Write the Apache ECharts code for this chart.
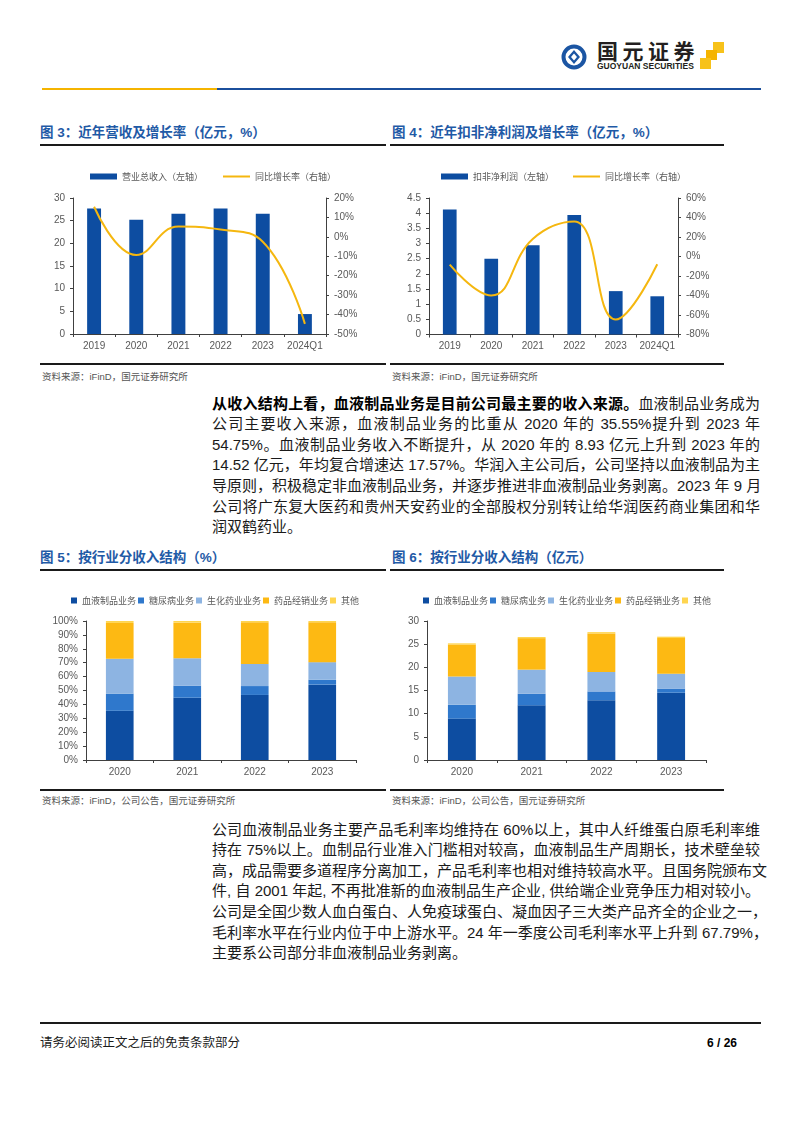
<!DOCTYPE html>
<html>
<head>
<meta charset="utf-8">
<script src="https://cdn.jsdelivr.net/npm/echarts/dist/echarts.min.js"></script>
<style>
  html, body { margin: 0; padding: 0; background: #fff; }
  body { width: 802px; height: 1133px; position: relative; overflow: hidden;
         font-family: "Liberation Sans", "Noto Sans CJK SC", sans-serif; color: #000; }
  .abs { position: absolute; }
  .title { position: absolute; font-size: 13.5px; font-weight: bold; color: #1F5AA6; white-space: nowrap; line-height: 16px; }
  .rule { position: absolute; height: 2px; background: #1a1a1a; }
  .src { position: absolute; font-size: 9.5px; color: #555; white-space: nowrap; line-height: 12px; }
  .para { position: absolute; left: 212px; width: 548px; font-size: 15px; line-height: 20.6px; color: #1a1a1a; }
  .para b { font-weight: bold; color: #000; }
  .para div { text-align: justify; text-align-last: justify; white-space: nowrap; }
  .para div.last { text-align-last: left; }
  .chart { position: absolute; }
</style>
</head>
<body>
<!-- header -->
<div class="abs" style="left:42px;top:87.5px;width:175px;height:2px;background:#F5B400"></div>
<div class="abs" style="left:217px;top:88px;width:544px;height:1.5px;background:#1B4F9C"></div>
<svg class="abs" style="left:561px;top:44px" width="26" height="26" viewBox="0 0 26 26">
  <circle cx="13" cy="13" r="10.5" fill="none" stroke="#1B55A3" stroke-width="4"/>
  <path d="M13 6 L19 13 L13 20 L7 13 Z" fill="#1B55A3"/>
  <path d="M13 9.5 L16 13 L13 16.5 L10 13 Z" fill="#fff"/>
</svg>
<div class="abs" style="left:597px;top:37px;font-size:21px;font-weight:bold;letter-spacing:4.5px;color:#231F20;line-height:26px;font-family:'Noto Sans CJK SC'">国元证券</div>
<div class="abs" style="left:597px;top:61px;font-size:8.5px;font-weight:bold;color:#231F20;line-height:10px;white-space:nowrap">GUOYUAN SECURITIES</div>
<div class="abs" style="left:713px;top:42px;width:11px;height:11px;background:#F7C21A"></div>
<div class="abs" style="left:706px;top:50px;width:11px;height:10px;background:#F5B400"></div>
<div class="abs" style="left:700px;top:58px;width:11px;height:11px;background:#F7C21A"></div>

<!-- chart 3 / 4 titles -->
<div class="title" style="left:40px;top:125px">图 3：近年营收及增长率（亿元，%）</div>
<div class="rule" style="left:40px;top:143.5px;width:346px"></div>
<div class="title" style="left:392px;top:125px">图 4：近年扣非净利润及增长率（亿元，%）</div>
<div class="rule" style="left:390px;top:143.5px;width:334px"></div>

<div id="c3" class="chart" style="left:40px;top:150px;width:347px;height:210px"></div>
<div id="c4" class="chart" style="left:390px;top:150px;width:334px;height:210px"></div>

<div class="rule" style="left:40px;top:362.5px;width:346px"></div>
<div class="rule" style="left:390px;top:362.5px;width:334px"></div>
<div class="src" style="left:42px;top:371px">资料来源：iFinD，国元证券研究所</div>
<div class="src" style="left:392px;top:371px">资料来源：iFinD，国元证券研究所</div>

<!-- paragraph 1 -->
<div class="para" style="top:393.7px">
  <div><b>从收入结构上看，血液制品业务是目前公司最主要的收入来源。</b>血液制品业务成为</div>
  <div>公司主要收入来源，血液制品业务的比重从 2020 年的 35.55%提升到 2023 年</div>
  <div>54.75%。血液制品业务收入不断提升，从 2020 年的 8.93 亿元上升到 2023 年的</div>
  <div>14.52 亿元，年均复合增速达 17.57%。华润入主公司后，公司坚持以血液制品为主</div>
  <div>导原则，积极稳定非血液制品业务，并逐步推进非血液制品业务剥离。2023 年 9 月</div>
  <div>公司将广东复大医药和贵州天安药业的全部股权分别转让给华润医药商业集团和华</div>
  <div class="last">润双鹤药业。</div>
</div>

<!-- chart 5 / 6 titles -->
<div class="title" style="left:40px;top:550px">图 5：按行业分收入结构（%）</div>
<div class="rule" style="left:40px;top:568.5px;width:346px"></div>
<div class="title" style="left:392px;top:550px">图 6：按行业分收入结构（亿元）</div>
<div class="rule" style="left:390px;top:568.5px;width:334px"></div>

<div id="c5" class="chart" style="left:40px;top:575px;width:347px;height:210px"></div>
<div id="c6" class="chart" style="left:390px;top:575px;width:334px;height:210px"></div>

<div class="rule" style="left:40px;top:788.5px;width:346px"></div>
<div class="rule" style="left:390px;top:788.5px;width:334px"></div>
<div class="src" style="left:42px;top:795px">资料来源：iFinD，公司公告，国元证券研究所</div>
<div class="src" style="left:392px;top:795px">资料来源：iFinD，公司公告，国元证券研究所</div>

<!-- paragraph 2 -->
<div class="para" style="top:819.7px">
  <div>公司血液制品业务主要产品毛利率均维持在 60%以上，其中人纤维蛋白原毛利率维</div>
  <div>持在 75%以上。血制品行业准入门槛相对较高，血液制品生产周期长，技术壁垒较</div>
  <div>高，成品需要多道程序分离加工，产品毛利率也相对维持较高水平。且国务院颁布文</div>
  <div>件, 自 2001 年起, 不再批准新的血液制品生产企业, 供给端企业竞争压力相对较小。</div>
  <div>公司是全国少数人血白蛋白、人免疫球蛋白、凝血因子三大类产品齐全的企业之一，</div>
  <div>毛利率水平在行业内位于中上游水平。24 年一季度公司毛利率水平上升到 67.79%，</div>
  <div class="last">主要系公司部分非血液制品业务剥离。</div>
</div>

<!-- footer -->
<div class="rule" style="left:40px;top:1022px;width:721px"></div>
<div class="abs" style="left:40px;top:1035px;font-size:12.5px;line-height:16px;white-space:nowrap;color:#1a1a1a">请务必阅读正文之后的免责条款部分</div>
<div class="abs" style="left:697px;top:1035px;width:40px;text-align:right;font-size:12px;font-weight:bold;line-height:16px;white-space:nowrap">6 / 26</div>

<script>
// ---------- data ----------
const years = ['2019', '2020', '2021', '2022', '2023', '2024Q1'];
const revenue = [27.7, 25.2, 26.5, 27.7, 26.5, 4.4];
const revenueGrowth = [15.5, -9.3, 5.3, 3.8, -2.5, -44.8];
const profit = [4.12, 2.50, 2.94, 3.94, 1.43, 1.26];
const profitGrowth = [-8.3, -39.9, 18.0, 36.0, -64.6, -8.0];

const segYears = ['2020', '2021', '2022', '2023'];
const segNames = ['血液制品业务', '糖尿病业务', '生化药业业务', '药品经销业务', '其他'];
const sharePlasma = [35.4, 44.8, 46.8, 54.2];
const shareDiabetes = [12.3, 8.7, 6.4, 3.6];
const shareBiochem = [25.1, 19.7, 15.9, 12.6];
const shareDistrib = [25.8, 25.6, 30.0, 28.7];
const shareOther = [1.4, 1.2, 0.9, 0.9];

const revPlasma = [8.93, 11.8, 12.9, 14.52];
const revDiabetes = [3.0, 2.5, 1.9, 0.9];
const revBiochem = [6.1, 5.2, 4.2, 3.2];
const revDistrib = [6.9, 6.8, 8.3, 7.7];
const revOther = [0.25, 0.25, 0.3, 0.3];

// ---------- styles ----------
const BLUE = '#0D4DA1';
const GOLD = '#F5B70F';
const SEG_COLORS = ['#0D4DA1', '#2F78CC', '#8DB4E2', '#FDB913', '#FFD54F'];
const AXIS_COLOR = '#404040';
const LABEL = { color: '#595959', fontSize: 10, fontFamily: 'Liberation Sans, Arial, sans-serif' };
const LEGEND_TEXT = { color: '#595959', fontSize: 9, fontFamily: 'Noto Sans CJK SC, sans-serif' };

function valAxis(min, max, interval, pos, fmt) {
  return {
    type: 'value', min: min, max: max, interval: interval, position: pos,
    axisLine: { show: true, lineStyle: { color: AXIS_COLOR, width: 1 } },
    axisTick: { show: true, length: 3, lineStyle: { color: AXIS_COLOR } },
    splitLine: { show: false },
    axisLabel: Object.assign({ margin: 8, formatter: fmt }, LABEL)
  };
}
function catAxis(data) {
  return {
    type: 'category', data: data,
    axisLine: { show: true, lineStyle: { color: AXIS_COLOR, width: 1 } },
    axisTick: { show: true, length: 3, alignWithLabel: false, interval: 0, lineStyle: { color: AXIS_COLOR } },
    axisLabel: Object.assign({ margin: 7, interval: 0 }, LABEL)
  };
}

function comboChart(id, grid, barLegendLeft, lineLegendLeft, barName, lineName, barData, lineData, lAxis, rAxis) {
  const ch = echarts.init(document.getElementById(id), null, { renderer: 'canvas' });
  ch.setOption({
    animation: false,
    legend: [
      { left: barLegendLeft, top: 17, itemWidth: 27, itemHeight: 6, icon: 'rect',
        textStyle: LEGEND_TEXT, data: [barName] },
      { left: lineLegendLeft, top: 17, itemWidth: 27, itemHeight: 2, icon: 'rect',
        textStyle: LEGEND_TEXT, data: [lineName] }
    ],
    grid: grid,
    xAxis: catAxis(years),
    yAxis: [lAxis, rAxis],
    series: [
      { name: barName, type: 'bar', data: barData, barWidth: '33%', itemStyle: { color: BLUE }, yAxisIndex: 0 },
      { name: lineName, type: 'line', data: lineData, yAxisIndex: 1, smooth: 0.45, symbol: 'none',
        lineStyle: { color: GOLD, width: 2 }, itemStyle: { color: GOLD } }
    ]
  });
}

comboChart('c3', { left: 33, top: 48, width: 253, height: 136 }, 45, 178,
  '营业总收入（左轴）', '同比增长率（右轴）', revenue, revenueGrowth,
  valAxis(0, 30, 5, 'left'), valAxis(-50, 20, 10, 'right', '{value}%'));

comboChart('c4', { left: 39, top: 48, width: 249, height: 136.5 }, 46, 178,
  '扣非净利润（左轴）', '同比增长率（右轴）', profit, profitGrowth,
  valAxis(0, 4.5, 0.5, 'left'), valAxis(-80, 60, 20, 'right', '{value}%'));

function stackChart(id, grid, legendLeft, seriesData, yAxis, barWidth) {
  const ch = echarts.init(document.getElementById(id), null, { renderer: 'canvas' });
  ch.setOption({
    animation: false,
    legend: {
      left: legendLeft, top: 16, itemWidth: 6, itemHeight: 6, itemGap: 2, icon: 'rect',
      textStyle: LEGEND_TEXT, data: segNames
    },
    grid: grid,
    xAxis: catAxis(segYears),
    yAxis: yAxis,
    series: seriesData.map(function (d, i) {
      return { name: segNames[i], type: 'bar', stack: 'total', data: d, barWidth: barWidth,
               itemStyle: { color: SEG_COLORS[i] } };
    })
  });
}

stackChart('c5', { left: 46, top: 46, width: 270, height: 139 }, 26,
  [sharePlasma, shareDiabetes, shareBiochem, shareDistrib, shareOther],
  valAxis(0, 100, 10, 'left', '{value}%'), '41%');

stackChart('c6', { left: 37, top: 46, width: 279, height: 139 }, 28,
  [revPlasma, revDiabetes, revBiochem, revDistrib, revOther],
  valAxis(0, 30, 5, 'left'), '40%');
</script>
</body>
</html>
